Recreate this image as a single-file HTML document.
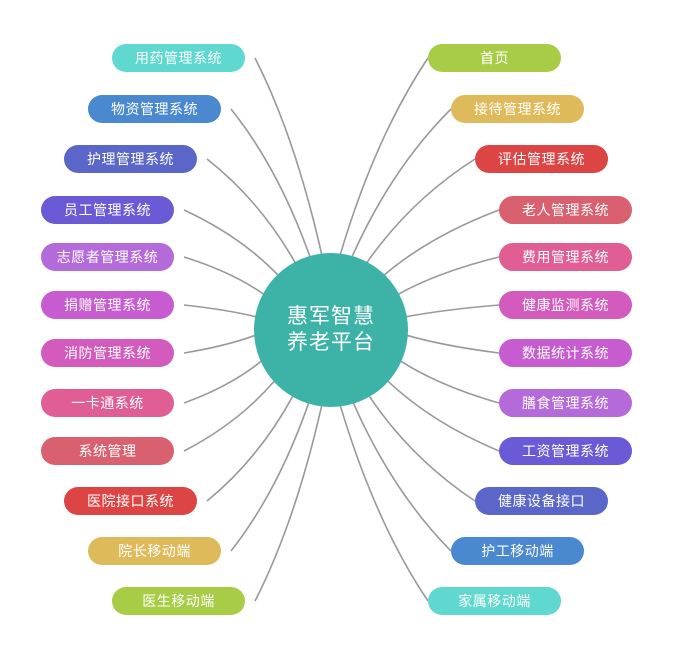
<!DOCTYPE html>
<html><head><meta charset="utf-8"><style>
body{margin:0;width:699px;height:665px;background:#fff;position:relative;overflow:hidden;font-family:"Liberation Sans","Noto Sans CJK SC",sans-serif}
.p{position:absolute;height:28px;width:133px;border-radius:14px;color:#fff;font-size:14px;line-height:28px;text-align:center;letter-spacing:0.5px}
svg{position:absolute;left:0;top:0}
.c{position:absolute;left:254px;top:253px;width:154px;height:154px;border-radius:50%;background:#3db3a8;color:#fff;font-size:21px;line-height:26px;text-align:center;display:flex;align-items:center;justify-content:center;letter-spacing:1px}
</style></head><body>
<svg id="s" width="699" height="665"></svg>
<div class="c"><div>惠军智慧<br>养老平台</div></div>
<div id="pills"></div>
<script>
var L=[["用药管理系统",112,58,"#5fd9cf",-97],["物资管理系统",88,109,"#4a88d0",-106],["护理管理系统",64,159,"#5b67c8",-118],["员工管理系统",41,210,"#6a5ad6",-134],["志愿者管理系统",41,257,"#b46ad8",-152],["捐赠管理系统",41,305,"#c75bd0",-170],["消防管理系统",41,353,"#d35bbe",176],["一卡通系统",41,403,"#e05e93",156],["系统管理",41,451,"#d9606e",138],["医院接口系统",64,501,"#dd4444",120],["院长移动端",88,551,"#dfba5a",107],["医生移动端",112,601,"#a8cc45",97]];
var R=[["首页",428,58,"#a8cc45"],["接待管理系统",451,109,"#dfba5a"],["评估管理系统",475,159,"#dd4444"],["老人管理系统",499,210,"#d9606e"],["费用管理系统",499,257,"#e05e93"],["健康监测系统",499,305,"#d35bbe"],["数据统计系统",499,353,"#c75bd0"],["膳食管理系统",499,403,"#b46ad8"],["工资管理系统",499,451,"#6a5ad6"],["健康设备接口",475,501,"#5b67c8"],["护工移动端",451,551,"#4a88d0"],["家属移动端",428,601,"#5fd9cf"]];
var cx=331,cy=330,r=76,h="",ph="";
function add(t,x,y,c,a,right){
 ph+='<div class="p" style="left:'+x+'px;top:'+(y-14)+'px;background:'+c+'">'+t+'</div>';
 var rad=a*Math.PI/180,tx=cx+r*Math.cos(rad),ty=cy+r*Math.sin(rad);
 var sx=right?x:x+133+10,sy=y;
 var qx=tx*0.6+sx*0.4,qy=sy*0.6+ty*0.4;
 h+='<path d="M'+sx+' '+sy+' Q'+qx+' '+qy+' '+tx+' '+ty+'" fill="none" stroke="#999" stroke-width="1.6"/>';
}
L.forEach(function(p){add(p[0],p[1],p[2],p[3],p[4],false)});
R.forEach(function(p,i){add(p[0],p[1],p[2],p[3],180-L[i][4],true)});
document.getElementById("s").innerHTML=h;
document.getElementById("pills").innerHTML=ph;
</script>
</body></html>
